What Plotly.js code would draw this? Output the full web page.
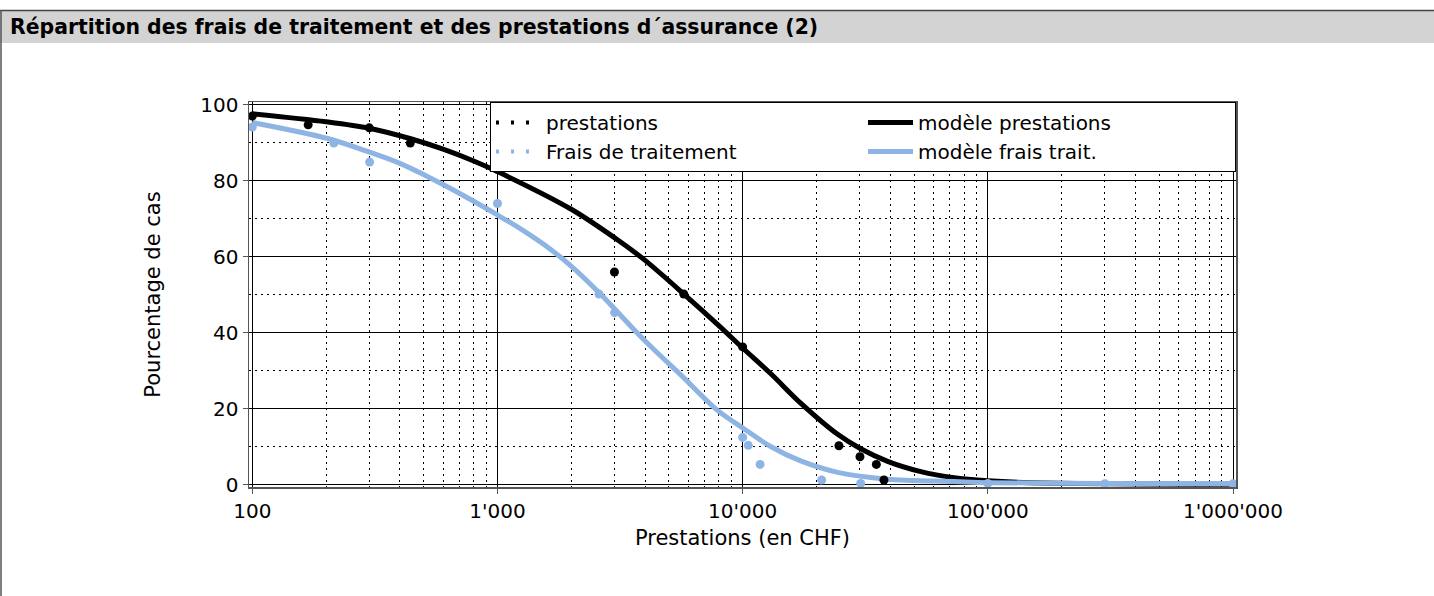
<!DOCTYPE html>
<html>
<head>
<meta charset="utf-8">
<script src="https://cdn.plot.ly/plotly-3.0.1.min.js"></script>
<style>
html,body{margin:0;padding:0;background:#fff;}
#chart{width:1434px;height:596px;}
</style>
</head>
<body>
<div id="chart"></div>
<script>
// ---------- data ----------
const chartTitle = "Répartition des frais de traitement et des prestations d´assurance (2)";
const xAxisTitle = "Prestations (en CHF)";
const yAxisTitle = "Pourcentage de cas";

const xTickVals = [100, 1000, 10000, 100000, 1000000];
const xTickText = ["100", "1'000", "10'000", "100'000", "1'000'000"];
const yTickVals = [0, 20, 40, 60, 80, 100];
const yTickText = ["0", "20", "40", "60", "80", "100"];

const seriesNames = ["prestations", "modèle prestations", "Frais de traitement", "modèle frais trait."];

// observed points: prestations
const prestX = [100, 169, 300, 441, 1000, 3000, 5750, 10000, 24700, 30100, 35100, 37700];
const prestY = [97.0, 94.7, 93.9, 89.9, 83.0, 56.0, 50.2, 36.3, 10.3, 7.4, 5.4, 1.3];

// observed points: frais de traitement
const fraisX = [100, 215, 301, 1000, 2594, 3005, 10000, 10540, 11780, 21000, 30300, 100000, 300000, 1000000];
const fraisY = [94.1, 89.9, 84.9, 74.0, 50.2, 45.3, 12.5, 10.4, 5.4, 1.3, 0.4, 0.4, 0.3, 0.3];

// model curve: prestations
const modelPrestX = [100, 200, 300, 450, 600, 800, 1000, 2000, 3034, 3955, 5850, 8120, 10000, 13000, 17250, 24400, 30300, 39000, 53300, 72800, 100000, 150000, 1000000];
const modelPrestY = [97.6, 95.5, 93.8, 90.9, 88.3, 85.2, 82.4, 72.5, 64.8, 59.3, 49.8, 41.5, 36.0, 29.3, 21.5, 13.3, 9.5, 6.2, 3.5, 1.9, 1.1, 0.6, 0.2];

// model curve: frais de traitement
const modelFraisX = [100, 203, 301, 402, 508, 608, 800, 1000, 1280, 1643, 2018, 2594, 3034, 3600, 4345, 5580, 7900, 10000, 13000, 17250, 24400, 39000, 72800, 100000, 300000, 1000000];
const modelFraisY = [95.3, 91.1, 87.5, 84.5, 81.4, 78.8, 74.6, 71.0, 66.8, 62.0, 57.3, 50.6, 46.0, 40.9, 35.6, 29.0, 19.6, 15.0, 10.1, 6.3, 3.3, 1.5, 0.9, 0.6, 0.4, 0.3];

// ---------- styling / layout ----------
const BLACK = "#000000";
const BLUE = "#8EB4E3";
const FONT = "DejaVu Sans, Verdana, sans-serif";

const W = 1434, H = 596;
const M = {l: 249, r: 198, t: 102, b: 109};
const pw = W - M.l - M.r, ph = H - M.t - M.b;
const px2x = p => (p - M.l) / pw;
const py2y = p => (H - M.b - p) / ph;

// minor gridline positions on the log axis (2..9 of each decade)
const minorX = [];
[100, 1000, 10000, 100000].forEach(d => { for (let k = 2; k <= 9; k++) minorX.push(d * k); });

const traces = [
  {x: modelPrestX, y: modelPrestY, name: seriesNames[1], mode: "lines",
   line: {color: BLACK, width: 5, shape: "spline", smoothing: 0.9}, legendrank: 2, hoverinfo: "skip"},
  {x: modelFraisX, y: modelFraisY, name: seriesNames[3], mode: "lines",
   line: {color: BLUE, width: 5, shape: "spline", smoothing: 0.9}, legendrank: 4, hoverinfo: "skip"},
  {x: prestX, y: prestY, name: seriesNames[0], mode: "markers", showlegend: false,
   marker: {color: BLACK, size: 9}},
  {x: fraisX, y: fraisY, name: seriesNames[2], mode: "markers", showlegend: false,
   marker: {color: BLUE, size: 9}},
  // legend-only entries drawn as dotted samples
  {x: [null], y: [null], name: seriesNames[0], mode: "lines",
   line: {color: BLACK, width: 4, dash: "3px,12px"}, legendrank: 1},
  {x: [null], y: [null], name: seriesNames[2], mode: "lines",
   line: {color: BLUE, width: 4, dash: "3px,12px"}, legendrank: 3}
];

const layout = {
  width: W, height: H,
  margin: M,
  paper_bgcolor: "#ffffff",
  plot_bgcolor: "#ffffff",
  font: {family: FONT, size: 20, color: "#000"},
  title: {
    text: chartTitle,
    font: {family: FONT, size: 20.4, color: "#000", weight: "bold"},
    x: 10 / W, xanchor: "left", xref: "container",
    y: 1 - 27 / H, yanchor: "middle", yref: "container"
  },
  xaxis: {
    type: "log",
    range: [2 - 3.3 / 245.2, 6 + 3.0 / 245.2],
    tickmode: "array", tickvals: xTickVals, ticktext: xTickText,
    tickfont: {family: FONT, size: 20, color: "#000"},
    ticks: "outside", ticklen: 5, tickcolor: "#555",
    showgrid: true, gridcolor: "#000", gridwidth: 1,
    minor: {tickmode: "array", tickvals: minorX, showgrid: true, gridcolor: "#000",
            gridwidth: 1, griddash: "2px,4px", ticks: ""},
    showline: true, linecolor: "#555", linewidth: 1.5, mirror: true,
    zeroline: false,
    title: {text: xAxisTitle, font: {family: FONT, size: 21, color: "#000"}, standoff: 9}
  },
  yaxis: {
    range: [-0.55, 100.7],
    tickmode: "array", tickvals: yTickVals, ticktext: yTickText,
    tickfont: {family: FONT, size: 20, color: "#000"},
    ticks: "outside", ticklen: 5, tickcolor: "#555",
    showgrid: true, gridcolor: "#000", gridwidth: 1,
    minor: {dtick: 10, showgrid: true, gridcolor: "#000", gridwidth: 1, griddash: "2px,4px", ticks: ""},
    showline: true, linecolor: "#555", linewidth: 1.5, mirror: true,
    zeroline: false,
    title: {text: yAxisTitle, font: {family: FONT, size: 21, color: "#000"}, standoff: 34}
  },
  legend: {
    orientation: "h",
    x: 1, xanchor: "right", y: 1, yanchor: "top",
    entrywidth: 312, entrywidthmode: "pixels",
    itemwidth: 45,
    bgcolor: "#ffffff", bordercolor: "#000", borderwidth: 1,
    font: {family: FONT, size: 20, color: "#000"},
    traceorder: "normal"
  },
  shapes: [
    {type: "rect", xref: "paper", yref: "paper", layer: "below",
     x0: px2x(0), x1: px2x(W), y0: py2y(43), y1: py2y(11),
     fillcolor: "#d3d3d3", line: {width: 0}},
    {type: "line", xref: "paper", yref: "paper",
     x0: px2x(0), x1: px2x(W), y0: py2y(10.5), y1: py2y(10.5),
     line: {color: "#444", width: 1.5}},
    {type: "line", xref: "paper", yref: "paper",
     x0: px2x(1), x1: px2x(1), y0: py2y(10), y1: py2y(H),
     line: {color: "#555", width: 1.5}}
  ],
  showlegend: true
};

Plotly.newPlot("chart", traces, layout, {displayModeBar: false, staticPlot: true});
</script>
</body>
</html>
